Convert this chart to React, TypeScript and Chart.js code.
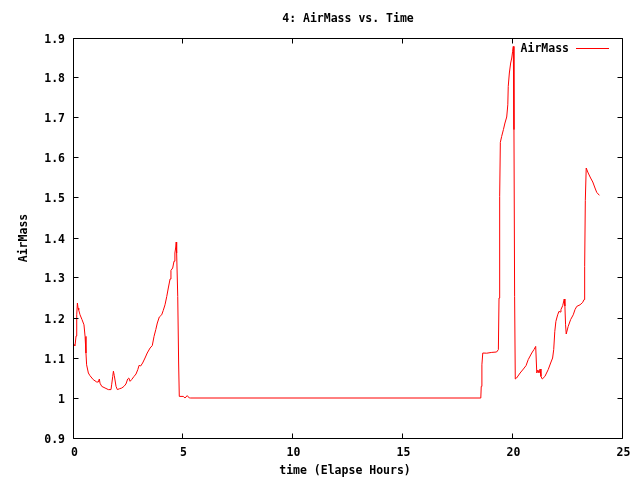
import React, { useEffect, useRef } from "react";
import { Chart, registerables } from "chart.js";

Chart.register(...registerables);

// Elapsed hours
const hours = [
  0.01, 0.09, 0.14, 0.17, 0.2, 0.23, 0.26, 0.32, 0.41, 0.5, 0.55, 0.59, 0.62, 0.7, 0.77, 0.92,
  1.08, 1.15, 1.2, 1.23, 1.31, 1.46, 1.61, 1.73, 1.76, 1.81, 1.84, 1.88, 1.96, 2.02, 2.11, 2.22,
  2.32, 2.41, 2.49, 2.54, 2.6, 2.67, 2.78, 2.87, 2.95, 3.01, 3.08, 3.17, 3.28, 3.38, 3.51, 3.61,
  3.69, 3.77, 3.84, 3.93, 4.04, 4.11, 4.19, 4.27, 4.34, 4.42, 4.46, 4.54, 4.6, 4.64, 4.68, 4.7,
  4.72, 4.77, 4.81, 4.84, 5.02, 5.1, 5.2, 5.3, 5.36, 18.57, 18.59, 18.62, 18.66, 18.84, 19.07,
  19.29, 19.37, 19.4, 19.43, 19.46, 19.52, 19.6, 19.67, 19.75, 19.8, 19.82, 19.87, 19.93, 19.98,
  20.02, 20.05, 20.08, 20.11, 20.14, 20.2, 20.36, 20.51, 20.63, 20.73, 20.89, 20.99, 21.07,
  21.12, 21.17, 21.22, 21.27, 21.31, 21.37, 21.49, 21.64, 21.75, 21.84, 21.89, 21.94, 21.99,
  22.07, 22.13, 22.18, 22.22, 22.3, 22.37, 22.4, 22.43, 22.46, 22.55, 22.66, 22.78, 22.86,
  22.94, 23.09, 23.21, 23.27, 23.3, 23.33, 23.37, 23.46, 23.57, 23.67, 23.77, 23.85, 23.97,
];

// AirMass values
const airMass = [
  1.1375, 1.13, 1.155, 1.208, 1.2375, 1.225, 1.22, 1.208, 1.196, 1.183, 1.154, 1.1125, 1.083,
  1.0625, 1.056, 1.046, 1.04, 1.04, 1.0475, 1.037, 1.029, 1.025, 1.021, 1.021, 1.033, 1.054,
  1.067, 1.056, 1.029, 1.021, 1.023, 1.025, 1.029, 1.035, 1.0475, 1.05, 1.0417, 1.046, 1.054,
  1.06, 1.071, 1.0817, 1.08, 1.0875, 1.1, 1.1125, 1.125, 1.131, 1.154, 1.171, 1.1875, 1.2025,
  1.208, 1.219, 1.233, 1.254, 1.275, 1.2975, 1.319, 1.325, 1.342, 1.3625, 1.3775, 1.39, 1.3625,
  1.254, 1.0875, 1.004, 1.004, 1.0, 1.006, 1.0, 1.0, 1.0, 1.029, 1.083, 1.1125, 1.112, 1.114,
  1.115, 1.121, 1.25, 1.504, 1.639, 1.654, 1.671, 1.6875, 1.7025, 1.733, 1.779, 1.8125, 1.8375,
  1.85, 1.8667, 1.879, 1.671, 1.254, 1.0475, 1.05, 1.0625, 1.0725, 1.081, 1.096, 1.1125, 1.121,
  1.129, 1.0625, 1.07, 1.0625, 1.0725, 1.054, 1.0475, 1.054, 1.071, 1.0875, 1.1, 1.121, 1.1667,
  1.1917, 1.208, 1.2167, 1.215, 1.221, 1.231, 1.2475, 1.23, 1.183, 1.16, 1.179, 1.196, 1.208,
  1.221, 1.229, 1.233, 1.239, 1.246, 1.329, 1.494, 1.575, 1.5625, 1.55, 1.54, 1.525, 1.514,
  1.5067,
];

const xTicks = [0, 5, 10, 15, 20, 25];
const xTickLabels = ["0", "5", "10", "15", "20", "25"];
const yTicks = [0.9, 1.0, 1.1, 1.2, 1.3, 1.4, 1.5, 1.6, 1.7, 1.8, 1.9];
const yTickLabels = ["0.9", "1", "1.1", "1.2", "1.3", "1.4", "1.5", "1.6", "1.7", "1.8", "1.9"];

const chartTitle = "4: AirMass vs. Time";
const xTitle = "time (Elapse Hours)";
const yTitle = "AirMass";
const seriesName = "AirMass";

const FONT = "bold 11.5px 'DejaVu Sans Mono', monospace";

const gnuplotFrame = {
  id: "gnuplotFrame",
  afterDraw(chart: any) {
    const { ctx, chartArea, scales } = chart;
    const { left, right, top, bottom } = chartArea;
    const xs = scales.x;
    const ys = scales.y;
    const L = Math.floor(left) + 0.5;
    const R = Math.floor(right) + 0.5;
    const T = Math.floor(top) + 0.5;
    const B = Math.floor(bottom) + 0.5;
    const tl = 5;
    ctx.save();
    ctx.strokeStyle = "#000";
    ctx.lineWidth = 1;
    ctx.beginPath();
    ctx.rect(L, T, R - L, B - T);
    ctx.stroke();

    ctx.fillStyle = "#000";
    ctx.font = FONT;

    // x ticks and labels
    ctx.textAlign = "center";
    ctx.textBaseline = "middle";
    xTicks.forEach((v, i) => {
      const px = Math.floor(xs.getPixelForValue(v)) + 0.5;
      ctx.beginPath();
      ctx.moveTo(px, B);
      ctx.lineTo(px, B - tl);
      ctx.moveTo(px, T);
      ctx.lineTo(px, T + tl);
      ctx.stroke();
      ctx.fillText(xTickLabels[i], px + 1, 453);
    });

    // y ticks and labels
    ctx.textAlign = "right";
    yTicks.forEach((v, i) => {
      const py = Math.floor(ys.getPixelForValue(v)) + 0.5;
      ctx.beginPath();
      ctx.moveTo(L, py);
      ctx.lineTo(L + tl, py);
      ctx.moveTo(R, py);
      ctx.lineTo(R - tl, py);
      ctx.stroke();
      ctx.fillText(yTickLabels[i], 65, py + 1.5);
    });

    // title
    ctx.textAlign = "center";
    ctx.fillText(chartTitle, 348, 19);
    // x title
    ctx.fillText(xTitle, 345, 471);
    // y title
    ctx.save();
    ctx.translate(24, 238);
    ctx.rotate(-Math.PI / 2);
    ctx.fillText(yTitle, 0, 0);
    ctx.restore();

    // legend
    ctx.textAlign = "right";
    ctx.fillText(seriesName, 569, 49);
    ctx.strokeStyle = "#ff0000";
    ctx.beginPath();
    ctx.moveTo(576, 48.5);
    ctx.lineTo(609, 48.5);
    ctx.stroke();

    ctx.restore();
  },
};

export default function App() {
  const canvasRef = useRef<HTMLCanvasElement | null>(null);

  useEffect(() => {
    const canvas = canvasRef.current;
    if (!canvas) return;
    const points = hours.map((h, i) => ({ x: h, y: airMass[i] }));
    const chart = new Chart(canvas, {
      type: "line",
      data: {
        datasets: [
          {
            label: seriesName,
            data: points,
            borderColor: "#ff0000",
            backgroundColor: "#ff0000",
            borderWidth: 1,
            pointRadius: 0,
            tension: 0,
            fill: false,
          },
        ],
      },
      options: {
        responsive: false,
        animation: false,
        layout: { padding: { left: 73, right: 18, top: 38, bottom: 42 } },
        plugins: {
          legend: { display: false },
          title: { display: false },
          tooltip: { enabled: false },
        },
        scales: {
          x: { type: "linear", min: 0, max: 25, display: false },
          y: { type: "linear", min: 0.9, max: 1.9, display: false },
        },
      },
      plugins: [gnuplotFrame],
    });
    return () => chart.destroy();
  }, []);

  return (
    <div style={{ position: "fixed", left: 0, top: 0, width: 640, height: 480, background: "#fff" }}>
      <canvas ref={canvasRef} width={640} height={480} />
    </div>
  );
}
